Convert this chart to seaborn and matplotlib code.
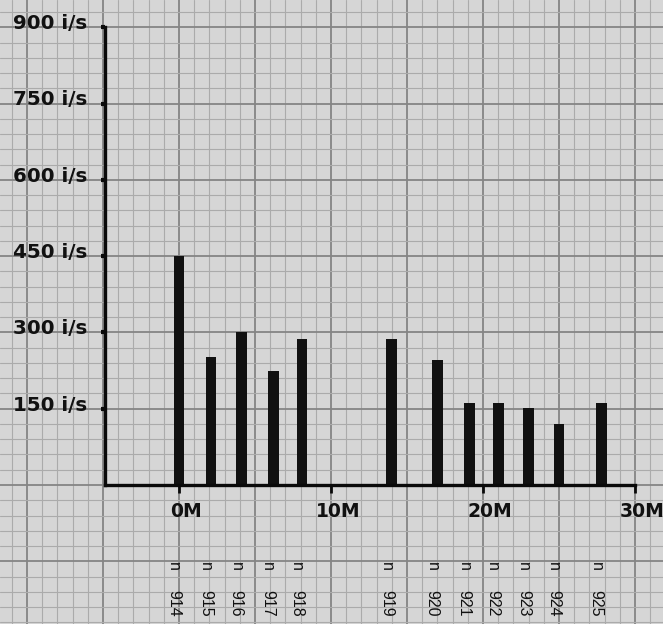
import matplotlib
matplotlib.use("Agg")
import matplotlib.pyplot as plt
import matplotlib.transforms as mtransforms
from matplotlib.ticker import MultipleLocator
import seaborn as sns
import pandas as pd

# ---- data ----
stations = ["914", "915", "916", "917", "918", "919", "920", "921", "922", "923", "924", "925"]
positions_m = [0.0, 2.1, 4.1, 6.2, 8.1, 14.0, 17.0, 19.1, 21.0, 23.0, 25.0, 27.8]
flows = [450, 252, 300, 225, 287, 287, 246, 161, 161, 152, 120, 161]
y_ticks = [150, 300, 450, 600, 750, 900]
y_tick_labels = ["150 i/s", "300 i/s", "450 i/s", "600 i/s", "750 i/s", "900 i/s"]
x_ticks = [0, 10, 20, 30]
x_tick_labels = ["0M", "10M", "20M", "30M"]

df = pd.DataFrame({"pos": positions_m, "flow": flows, "station": stations})

sns.set_theme(style="white")
plt.rcParams["font.family"] = ["DejaVu Sans"]

W, H = 663, 624
fig = plt.figure(figsize=(W / 100, H / 100), dpi=100)
paper = "#d6d6d6"
fig.patch.set_facecolor(paper)

# pixel mapping of the graph paper
px_per_m = 15.2
x0_px = 179.0
px_per_unit = 0.5086
y0_px = 485.0

# ---- background graph paper ----
bg = fig.add_axes([0, 0, 1, 1], zorder=0)
bg.set_facecolor(paper)
bg.set_xlim(-x0_px / px_per_m, (W - x0_px) / px_per_m)
bg.set_ylim(-(H - y0_px) / px_per_unit, y0_px / px_per_unit)
bg.xaxis.set_major_locator(MultipleLocator(5))
bg.xaxis.set_minor_locator(MultipleLocator(1))
bg.yaxis.set_major_locator(MultipleLocator(150))
bg.yaxis.set_minor_locator(MultipleLocator(30))
bg.grid(which="minor", color="#ababab", linewidth=0.8)
bg.grid(which="major", color="#858585", linewidth=1.3)
bg.tick_params(which="both", length=0, labelbottom=False, labelleft=False)
for s in bg.spines.values():
    s.set_visible(False)

# ---- main chart axes ----
xmin, xmax = -4.9, 30.0
left_px = x0_px + xmin * px_per_m
right_px = x0_px + xmax * px_per_m
top_px = y0_px - 900 * px_per_unit
ax = fig.add_axes([left_px / W, (H - y0_px) / H, (right_px - left_px) / W, (y0_px - top_px) / H], zorder=2)
ax.set_facecolor("none")

sns.barplot(data=df, x="pos", y="flow", native_scale=True, orient="x",
            color="#111111", errorbar=None, ax=ax, saturation=1)
bw = 0.7
for p in ax.patches:
    cx = p.get_x() + p.get_width() / 2
    p.set_width(bw)
    p.set_x(cx - bw / 2)
    p.set_edgecolor("none")
    p.set_facecolor("#111111")

ax.set_xlim(xmin, xmax)
ax.set_ylim(0, 900)
ax.set_xlabel("")
ax.set_ylabel("")
for side in ["top", "right"]:
    ax.spines[side].set_visible(False)
for side in ["left", "bottom"]:
    ax.spines[side].set_color("#0a0a0a")
    ax.spines[side].set_linewidth(2.4)

ax.set_yticks(y_ticks, y_tick_labels)
ax.set_xticks(x_ticks, x_tick_labels)
ax.tick_params(axis="y", length=3, width=3, color="#0a0a0a", pad=9.5, labelsize=14.3,
               labelcolor="#111111", left=True)
ax.tick_params(axis="x", length=6, width=2, color="#0a0a0a", pad=6, labelsize=13.5,
               labelcolor="#111111", bottom=True)
for lab in ax.get_yticklabels():
    lab.set_fontweight("bold")
    lab.set_transform(lab.get_transform() + mtransforms.ScaledTranslation(0, 4 / 72, fig.dpi_scale_trans))
for lab in ax.get_xticklabels():
    lab.set_fontweight("bold")
    lab.set_transform(lab.get_transform() + mtransforms.ScaledTranslation(5 / 72, 0, fig.dpi_scale_trans))

# station labels under the chart (rotated)
for pos, st in zip(positions_m, stations):
    ax.text(pos - 0.35, -160, "n", rotation=-90, ha="center", va="center",
            fontsize=11.5, family=["Liberation Sans", "DejaVu Sans"], color="#111111", clip_on=False)
    ax.text(pos - 0.35, -233, st, rotation=-90, ha="center", va="center",
            fontsize=11.5, family=["Liberation Sans", "DejaVu Sans"], color="#111111", clip_on=False)

fig.savefig("out.png", dpi=100, facecolor=paper)
